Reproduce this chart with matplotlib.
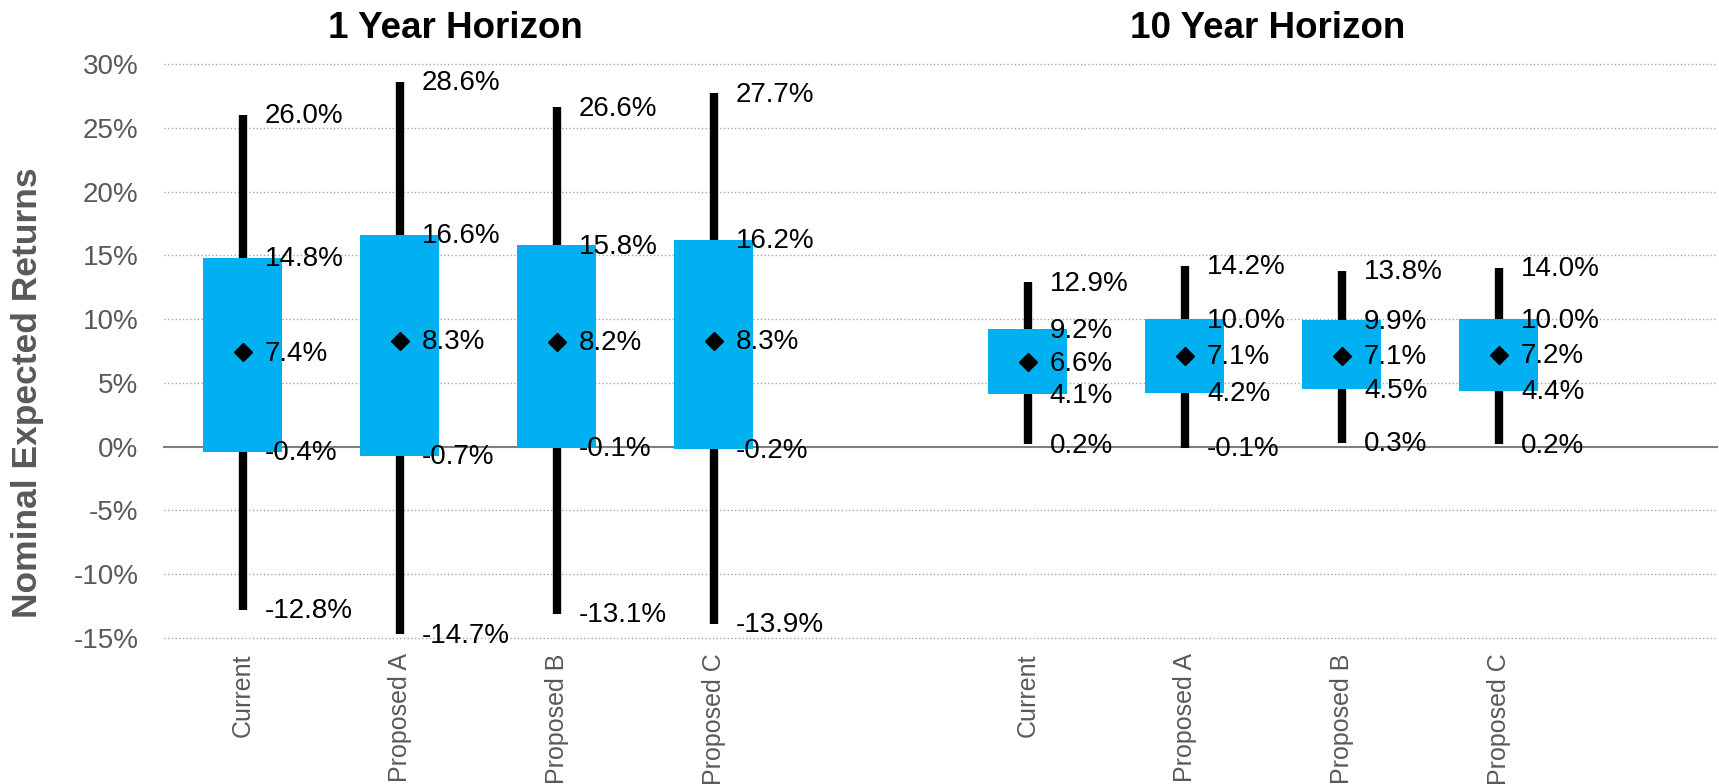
import matplotlib
matplotlib.use("Agg")
import matplotlib.pyplot as plt
import numpy as np

plt.rcParams['font.family'] = ['Liberation Sans', 'DejaVu Sans']

# data (percent)
categories  = ["Current", "Proposed A", "Proposed B", "Proposed C"]
groups      = ["1 Year Horizon", "10 Year Horizon"]

y1_high     = [26.0, 28.6, 26.6, 27.7]
y1_q_high   = [14.8, 16.6, 15.8, 16.2]
y1_mean     = [7.4, 8.3, 8.2, 8.3]
y1_q_low    = [-0.4, -0.7, -0.1, -0.2]
y1_low      = [-12.8, -14.7, -13.1, -13.9]

y10_high    = [12.9, 14.2, 13.8, 14.0]
y10_q_high  = [9.2, 10.0, 9.9, 10.0]
y10_mean    = [6.6, 7.1, 7.1, 7.2]
y10_q_low   = [4.1, 4.2, 4.5, 4.4]
y10_low     = [0.2, -0.1, 0.3, 0.2]

y_ticks = [-15, -10, -5, 0, 5, 10, 15, 20, 25, 30]
y_tick_labels = ["-15%", "-10%", "-5%", "0%", "5%", "10%", "15%", "20%", "25%", "30%"]

box_color = "#00B0F0"
gray_text = "#595959"


def draw_group(ax, xs, high, q_high, mean, q_low, low):
    xs = np.array(xs)
    ax.vlines(xs, low, high, colors="black", linewidth=6, zorder=2)
    ax.bar(xs, np.array(q_high) - np.array(q_low), bottom=q_low, width=0.5,
           color=box_color, zorder=3)
    ax.plot(xs, mean, linestyle="none", marker="D", markersize=9.5,
            color="black", zorder=4)
    for series in (high, q_high, mean, q_low, low):
        for x, v in zip(xs, series):
            ax.annotate("%.1f%%" % v, xy=(x, v), xytext=(16, -1),
                        textcoords="offset points", ha="left", va="center",
                        fontsize=20, color="black", zorder=5)


def main():
    fig = plt.figure(figsize=(17.19, 7.84), dpi=100)
    ax = fig.add_axes([164 / 1719, 1 - 638 / 784, (1717 - 164) / 1719, (638 - 64) / 784])

    x1 = np.arange(len(categories))
    x10 = np.arange(len(categories)) + len(categories) + 1

    # gridlines
    for t in y_ticks:
        if t == 0:
            ax.axhline(t, color="#7f7f7f", linewidth=1.5, zorder=1, clip_on=False)
        else:
            ax.axhline(t, color="#a6a6a6", linewidth=1.0, linestyle=":", zorder=1,
                       clip_on=False)

    draw_group(ax, x1, y1_high, y1_q_high, y1_mean, y1_q_low, y1_low)
    draw_group(ax, x10, y10_high, y10_q_high, y10_mean, y10_q_low, y10_low)

    ax.set_xlim(-0.5, 9.39)
    ax.set_ylim(-15, 30)
    ax.set_yticks(y_ticks)
    ax.set_yticklabels(y_tick_labels)
    ax.set_xticks(np.concatenate([x1, x10]))
    ax.set_xticklabels(categories + categories, rotation=90, va="top")
    ax.tick_params(axis="y", length=0, pad=18.5, labelsize=20, labelcolor=gray_text)
    ax.tick_params(axis="x", length=0, pad=11, labelsize=18, labelcolor=gray_text)
    for s in ax.spines.values():
        s.set_visible(False)

    fig.text(455 / 1719, 1 - 28 / 784, groups[0], ha="center", va="center",
             fontsize=26.5, fontweight="bold", color="black")
    fig.text(1268 / 1719, 1 - 28 / 784, groups[1], ha="center", va="center",
             fontsize=26.5, fontweight="bold", color="black")
    fig.text(28 / 1719, 1 - 393 / 784, "Nominal Expected Returns", rotation=90,
             ha="center", va="center", fontsize=25.5, fontweight="bold", color=gray_text)

    fig.savefig("out.png", dpi=100)


if __name__ == '__main__':
    main()
